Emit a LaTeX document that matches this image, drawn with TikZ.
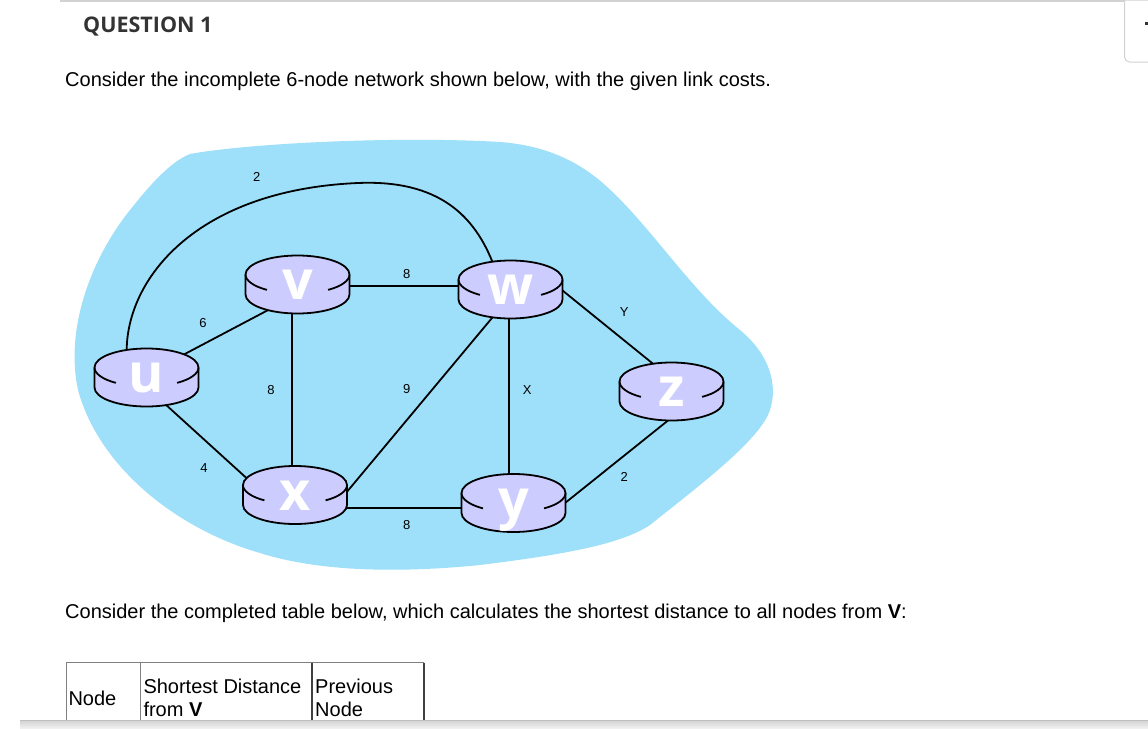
\documentclass[tikz,border=0pt]{standalone}
\usepackage{fontspec}
\setmainfont{Liberation Sans}
\newfontfamily\osans{Open Sans}
\usetikzlibrary{calc}
\definecolor{blobc}{RGB}{158,224,250}
\definecolor{rfill}{RGB}{204,204,255}
\definecolor{qgray}{RGB}{51,51,51}
\definecolor{rulec}{RGB}{210,210,210}
\tikzset{
  router/.style={minimum width=104pt, minimum height=58pt, inner sep=0pt, draw=none},
  link/.style={line width=1.8pt, black},
  cost/.style={font=\fontsize{13}{15}\selectfont, inner sep=0pt},
  rletter/.style={text=white, font=\osans\bfseries\fontsize{54}{60}\selectfont, inner sep=0pt, anchor=base},
  body/.style={fill=rfill, draw=black, line width=1.8pt},
  txt/.style={font=\fontsize{20}{24}\selectfont, inner sep=0pt, anchor=base west},
  tline/.style={draw=gray, line width=1pt},
  tlined/.style={draw=black!75, line width=1.8pt}
}
\newcommand\drawrouter[2]{%
  \begin{scope}[shift={(#1.center)}]
    \filldraw[body] (-52,10) -- (-52,-10) arc[start angle=180,end angle=360,x radius=52pt,y radius=19pt]
      -- (52,10) arc[start angle=0,end angle=180,x radius=52pt,y radius=19pt] -- cycle;
    \draw[link] (-52,10) arc[start angle=180,end angle=234,x radius=52pt,y radius=19pt];
    \draw[link] (52,10) arc[start angle=360,end angle=306,x radius=52pt,y radius=19pt];
    \node[rletter] (#1-l) at (0,-15) {#2};
  \end{scope}}
\begin{document}
\begin{tikzpicture}[x=1pt,y=1pt]
\useasboundingbox (0,0) rectangle (1148,-728);
\fill[white] (0,0) rectangle (1148,-728);
% top rule and right box
\draw[rulec, line width=2pt] (60,-1) -- (1148,-1);
\draw[rulec, line width=1pt, fill=white] (1160,0) -- (1124.5,0) -- (1124.5,-57) arc[start angle=180,end angle=270,radius=5pt] -- (1160,-62);
\fill[black!80] (1145,-22) rectangle (1148,-24.5);
% texts
\node[font=\osans\bfseries\fontsize{21.5}{24}\selectfont, text=qgray, inner sep=0pt, anchor=base west] (title) at (83,-32.3) {QUESTION 1};
\node[txt] (s1) at (65,-86.5) {Consider the incomplete 6-node network shown below, with the given link costs.};
\node[txt] (s2) at (65,-618) {Consider the completed table below, which calculates the shortest distance to all nodes from \textbf{V}:};
% blob
\fill[blobc] (190,-154)
  .. controls (250,-143) and (400,-136) .. (500,-142)
  .. controls (540,-145) and (575,-158) .. (605,-185)
  .. controls (650,-225) and (690,-290) .. (740,-330)
  .. controls (770,-355) and (778,-385) .. (770,-410)
  .. controls (760,-440) and (700,-485) .. (650,-525)
  .. controls (620,-545) and (560,-555) .. (480,-565)
  .. controls (400,-573) and (320,-572) .. (260,-553)
  .. controls (180,-530) and (100,-470) .. (78,-390)
  .. controls (65,-330) and (90,-260) .. (130,-210)
  .. controls (150,-185) and (170,-162) .. (190,-154) -- cycle;
% router placeholders
\node[router] (nu) at (146.5,-377.5) {};
\node[router] (nv) at (297.5,-284.5) {};
\node[router] (nw) at (510.5,-289.5) {};
\node[router] (nz) at (671.5,-391.5) {};
\node[router] (nx) at (295,-495) {};
\node[router] (ny) at (513.5,-503) {};
% links
\draw[link] ([shift={(34.9,21.7)}]nu.center) -- ([shift={(-27.2,-24.4)}]nv.center);
\draw[link] ([shift={(-19.8,25.5)}]nu.center) .. controls (126,-280) and (195,-190) .. (358,-183)
   .. controls (438,-179.6) and (475,-215) .. ([shift={(-16.5,23.5)}]nw.center);
\draw[link] ([shift={(40,-1.5)}]nv.center) -- ([shift={(-40,3.5)}]nw.center);
\draw[link] ([shift={(-5.8,-20)}]nv.center) -- ([shift={(-3.3,20)}]nx.center);
\draw[link] ([shift={(17.1,-25.2)}]nu.center) -- ([shift={(-45.6,14.3)}]nx.center);
\draw[link] ([shift={(48.2,-1.3)}]nx.center) -- ([shift={(-14.7,-23.9)}]nw.center);
\draw[link] ([shift={(40,-12.7)}]nx.center) -- ([shift={(-40,-4.7)}]ny.center);
\draw[link] ([shift={(-1.2,-20)}]nw.center) -- ([shift={(-4.2,20)}]ny.center);
\draw[link] ([shift={(48.8,1.6)}]nw.center) -- ([shift={(-15.1,25)}]nz.center);
\draw[link] ([shift={(47.8,-3)}]ny.center) -- ([shift={(0.5,-25.8)}]nz.center);
% cost labels
\node[cost] (c1) at (256.7,-177.3) {2};
\node[cost] (c2) at (203,-322.7) {6};
\node[cost] (c3) at (406.7,-274.3) {8};
\node[cost] (c4) at (271,-390) {8};
\node[cost] (c5) at (406.7,-389.3) {9};
\node[cost] (c6) at (204,-468) {4};
\node[cost] (c7) at (406.7,-525) {8};
\node[cost] (c8) at (527.3,-390) {X};
\node[cost] (c9) at (624.3,-311.7) {Y};
\node[cost] (c10) at (624.3,-476.7) {2};
% routers
\drawrouter{nu}{u}
\drawrouter{nv}{v}
\drawrouter{nw}{w}
\drawrouter{nz}{z}
\drawrouter{nx}{x}
\drawrouter{ny}{y}
% table
\draw[tline] (66,-720) -- (66,-662.7) -- (424,-662.7);
\draw[tline] (140.7,-662.7) -- (140.7,-720);
\draw[tlined] (312.3,-662.7) -- (312.3,-720);
\draw[tlined] (424,-662.7) -- (424,-720);
\node[txt] (h1) at (68.3,-705.7) {Node};
\node[txt] (h2a) at (143.3,-693.3) {Shortest Distance};
\node[txt] (h2b) at (143.3,-716.7) {from \textbf{V}};
\node[txt] (h3a) at (315,-693.3) {Previous};
\node[txt] (h3b) at (315,-716.7) {Node};
% bottom bar
\shade[top color=black!18, bottom color=black!6] (20,-720) rectangle (1148,-728);
\draw[black!25, line width=0.8pt] (20,-720) -- (1148,-720);
\end{tikzpicture}
\end{document}
